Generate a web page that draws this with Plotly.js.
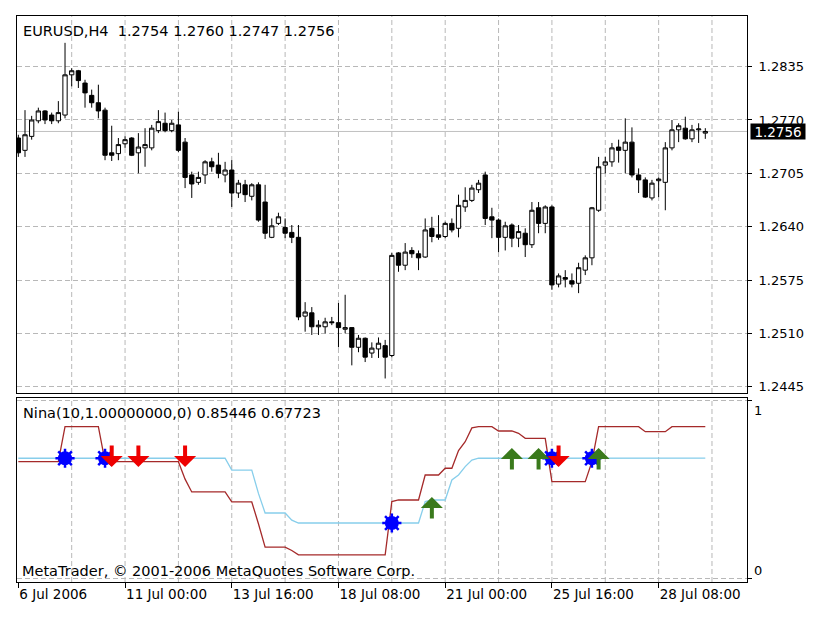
<!DOCTYPE html>
<html><head><meta charset="utf-8">
<script src="https://cdn.plot.ly/plotly-3.0.1.min.js"></script>
<style>html,body{margin:0;padding:0;background:#fff}#chart{width:828px;height:626px}</style>
</head><body><div id="chart"></div>
<script>
const symbolName = 'EURUSD,H4';
const indicatorName = 'Nina(10,1.00000000,0)';
const copyrightText = 'MetaTrader, \u00a9 2001-2006 MetaQuotes Software Corp.';

const openP = [
1.2748,1.2733,1.2750,1.2769,1.2781,1.2776,1.2769,1.2776,1.2825,1.2830,
1.2815,1.2800,1.2791,1.2782,1.2730,1.2729,1.2741,1.2748,1.2730,1.2736,
1.2736,1.2757,1.2766,1.2757,1.2764,1.2743,1.2703,1.2694,1.2703,1.2719,
1.2715,1.2703,1.2709,1.2681,1.2691,1.2677,1.2691,1.2670,1.2627,1.2644,
1.2639,1.2633,1.2627,1.2531,1.2535,1.2518,1.2518,1.2524,1.2523,1.2515,
1.2517,1.2493,1.2504,1.2486,1.2491,1.2495,1.2483,1.2608,1.2593,1.2611,
1.2607,1.2603,1.2638,1.2630,1.2628,1.2644,1.2638,1.2664,1.2672,1.2685,
1.2703,1.2652,1.2648,1.2627,1.2642,1.2626,1.2632,1.2618,1.2663,1.2644,
1.2664,1.2570,1.2578,1.2574,1.2571,1.2587,1.2602,1.2660,1.2715,1.2719,
1.2737,1.2733,1.2743,1.2703,1.2697,1.2675,1.2696,1.2694,1.2736,1.2758,
1.2760,1.2747,1.2758,1.2754];
const highP = [
1.2752,1.2782,1.2775,1.2785,1.2782,1.2779,1.2793,1.2864,1.2833,1.2831,
1.2819,1.2807,1.2813,1.2785,1.2763,1.2748,1.2750,1.2749,1.2754,1.2760,
1.2764,1.2782,1.2779,1.2770,1.2780,1.2748,1.2707,1.2707,1.2721,1.2724,
1.2730,1.2719,1.2721,1.2697,1.2697,1.2693,1.2694,1.2691,1.2650,1.2657,
1.2650,1.2642,1.2642,1.2548,1.2542,1.2526,1.2529,1.2530,1.2547,1.2557,
1.2517,1.2508,1.2505,1.2499,1.2505,1.2502,1.2608,1.2609,1.2620,1.2615,
1.2611,1.2650,1.2652,1.2654,1.2646,1.2650,1.2679,1.2688,1.2691,1.2697,
1.2707,1.2663,1.2650,1.2646,1.2644,1.2642,1.2638,1.2670,1.2670,1.2666,
1.2666,1.2583,1.2587,1.2583,1.2596,1.2605,1.2664,1.2725,1.2725,1.2742,
1.2746,1.2772,1.2761,1.2711,1.2700,1.2697,1.2700,1.2743,1.2770,1.2766,
1.2774,1.2764,1.2766,1.2760];
const lowP = [
1.2725,1.2725,1.2746,1.2766,1.2765,1.2765,1.2766,1.2772,1.2811,1.2809,
1.2785,1.2785,1.2772,1.2721,1.2720,1.2721,1.2736,1.2726,1.2705,1.2713,
1.2733,1.2754,1.2755,1.2755,1.2731,1.2687,1.2675,1.2691,1.2692,1.2707,
1.2699,1.2694,1.2664,1.2675,1.2670,1.2672,1.2646,1.2625,1.2626,1.2642,
1.2626,1.2620,1.2526,1.2512,1.2508,1.2508,1.2510,1.2520,1.2493,1.2510,
1.2471,1.2487,1.2475,1.2480,1.2480,1.2455,1.2481,1.2585,1.2587,1.2602,
1.2587,1.2602,1.2621,1.2624,1.2626,1.2633,1.2627,1.2658,1.2670,1.2681,
1.2642,1.2626,1.2609,1.2611,1.2615,1.2615,1.2603,1.2614,1.2632,1.2632,
1.2563,1.2566,1.2566,1.2566,1.2559,1.2581,1.2593,1.2658,1.2705,1.2713,
1.2718,1.2705,1.2700,1.2681,1.2675,1.2672,1.2676,1.2660,1.2733,1.2743,
1.2746,1.2743,1.2742,1.2747];
const closeP = [
1.2730,1.2752,1.2770,1.2781,1.2770,1.2769,1.2779,1.2825,1.2830,1.2818,
1.2803,1.2791,1.2781,1.2727,1.2727,1.2740,1.2746,1.2727,1.2737,1.2740,
1.2760,1.2768,1.2757,1.2766,1.2733,1.2700,1.2692,1.2700,1.2719,1.2713,
1.2705,1.2709,1.2681,1.2693,1.2679,1.2691,1.2648,1.2632,1.2641,1.2652,
1.2632,1.2627,1.2530,1.2536,1.2518,1.2520,1.2524,1.2523,1.2517,1.2517,
1.2493,1.2504,1.2481,1.2492,1.2498,1.2481,1.2605,1.2593,1.2609,1.2607,
1.2602,1.2636,1.2628,1.2627,1.2644,1.2636,1.2666,1.2672,1.2687,1.2693,
1.2650,1.2648,1.2627,1.2641,1.2626,1.2634,1.2618,1.2660,1.2644,1.2664,
1.2569,1.2580,1.2576,1.2570,1.2590,1.2602,1.2663,1.2713,1.2719,1.2736,
1.2733,1.2743,1.2703,1.2697,1.2676,1.2693,1.2698,1.2736,1.2758,1.2763,
1.2747,1.2758,1.2759,1.2756];

const ninaBrown = [
0.658,0.658,0.658,0.658,0.658,0.658,0.658,0.8545,0.8545,0.8545,
0.8545,0.8545,0.8545,0.658,0.658,0.658,0.658,0.658,0.658,0.658,
0.658,0.658,0.658,0.658,0.658,0.56,0.488,0.488,0.488,0.488,
0.488,0.488,0.432,0.432,0.432,0.432,0.31,0.179,0.179,0.179,
0.179,0.16,0.135,0.135,0.135,0.135,0.135,0.135,0.135,0.135,
0.135,0.135,0.135,0.135,0.135,0.135,0.434,0.443,0.443,0.443,
0.443,0.583,0.583,0.583,0.621,0.621,0.72,0.77,0.847,0.8545,
0.8545,0.8545,0.830,0.830,0.830,0.817,0.789,0.789,0.789,0.789,
0.546,0.546,0.546,0.546,0.546,0.546,0.658,0.8545,0.8545,0.8545,
0.8545,0.8545,0.8545,0.8545,0.826,0.826,0.826,0.826,0.8545,0.8545,
0.8545,0.8545,0.8545,0.85446];
const ninaBlue = [
0.6772,0.6772,0.6772,0.6772,0.6772,0.6772,0.6772,0.6772,0.6772,0.6772,
0.6772,0.6772,0.6772,0.6772,0.6772,0.6772,0.6772,0.6772,0.6772,0.6772,
0.6772,0.6772,0.6772,0.6772,0.6772,0.6772,0.6772,0.6772,0.6772,0.6772,
0.6772,0.6772,0.611,0.611,0.611,0.611,0.48,0.370,0.370,0.370,
0.370,0.33,0.314,0.314,0.314,0.314,0.314,0.314,0.314,0.314,
0.314,0.314,0.314,0.314,0.314,0.314,0.314,0.314,0.314,0.314,
0.314,0.434,0.443,0.443,0.443,0.555,0.583,0.63,0.667,0.6772,
0.6772,0.6772,0.6772,0.6772,0.6772,0.6772,0.6772,0.6772,0.6772,0.6772,
0.6772,0.6772,0.6772,0.6772,0.6772,0.6772,0.6772,0.6772,0.6772,0.6772,
0.6772,0.6772,0.6772,0.6772,0.6772,0.6772,0.6772,0.6772,0.6772,0.6772,
0.6772,0.6772,0.6772,0.67723];

const crossBars = [7, 13, 56, 80, 86];
const crossVals = [0.6772, 0.6772, 0.314, 0.6772, 0.6772];
const sellBars = [14, 18, 25, 81];
const sellVals = [0.628, 0.628, 0.628, 0.628];
const buyBars = [62, 74, 78, 87];
const buyVals = [0.46, 0.735, 0.735, 0.735];

const timeTickBars = [0, 16, 32, 48, 64, 80, 96];
const timeTickLabels = ['6 Jul 2006', '11 Jul 00:00', '13 Jul 16:00', '18 Jul 08:00', '21 Jul 00:00', '25 Jul 16:00', '28 Jul 08:00'];
const gridBars = [8, 16, 24, 32, 40, 48, 56, 64, 72, 80, 88, 96, 104];
const priceTicks = [1.2445, 1.2510, 1.2575, 1.2640, 1.2705, 1.2770, 1.2835];
const ninaTicks = [0, 1];

const N = openP.length;
const bars = openP.map((_, i) => i);
const fmt4 = v => v.toFixed(4);
const FONT = 'DejaVu Sans, Verdana, sans-serif';
const gridColor = '#b8b8b8';
const gridDash = '5px,3px';
const xRange = [-0.2, 109.25];
const textFont = { family: FONT, size: 14.5, color: '#000' };

const traces = [
  { type: 'candlestick', x: bars, open: openP, high: highP, low: lowP, close: closeP,
    xaxis: 'x', yaxis: 'y', whiskerwidth: 0, hoverinfo: 'skip', showlegend: false,
    increasing: { line: { color: '#000', width: 1 }, fillcolor: '#ffffff' },
    decreasing: { line: { color: '#000', width: 1 }, fillcolor: '#000000' } },
  { type: 'scatter', mode: 'lines', x: bars, y: ninaBlue, xaxis: 'x2', yaxis: 'y2',
    line: { color: '#87CEEB', width: 1.3 }, hoverinfo: 'skip', showlegend: false },
  { type: 'scatter', mode: 'lines', x: bars, y: ninaBrown, xaxis: 'x2', yaxis: 'y2',
    line: { color: '#A52A2A', width: 1.3 }, hoverinfo: 'skip', showlegend: false },
  { type: 'scatter', mode: 'markers', x: crossBars, y: crossVals, xaxis: 'x2', yaxis: 'y2',
    marker: { symbol: 'circle', size: 14, color: '#0000ff', line: { width: 0 } }, hoverinfo: 'skip', showlegend: false },
  { type: 'scatter', mode: 'markers', x: crossBars, y: crossVals, xaxis: 'x2', yaxis: 'y2',
    marker: { symbol: 'asterisk-open', size: 16, color: '#0000ff', line: { width: 2.5, color: '#0000ff' } }, hoverinfo: 'skip', showlegend: false }
];

const shapes = [];
gridBars.forEach(g => {
  shapes.push({ type: 'line', layer: 'below', xref: 'x', yref: 'y domain', x0: g, x1: g, y0: 0, y1: 1,
    line: { color: gridColor, width: 1, dash: gridDash } });
  shapes.push({ type: 'line', layer: 'below', xref: 'x2', yref: 'y2 domain', x0: g, x1: g, y0: 0, y1: 1,
    line: { color: gridColor, width: 1, dash: gridDash } });
});
shapes.push({ type: 'line', layer: 'below', xref: 'x domain', yref: 'y', x0: 0, x1: 1,
  y0: closeP[N - 1], y1: closeP[N - 1], line: { color: '#c0c0c0', width: 1 } });

const annotations = [
  { xref: 'paper', yref: 'paper', x: 0, y: 1, xanchor: 'left', yanchor: 'top', xshift: 4, yshift: -5, showarrow: false,
    font: textFont,
    text: symbolName + '\u00a0\u00a0' + [openP[N-1], highP[N-1], lowP[N-1], closeP[N-1]].map(fmt4).join(' ') },
  { xref: 'paper', yref: 'y2 domain', x: 0, y: 1, xanchor: 'left', yanchor: 'top', xshift: 4, yshift: -5, showarrow: false,
    font: textFont,
    text: indicatorName + ' ' + ninaBrown[N-1].toFixed(5) + ' ' + ninaBlue[N-1].toFixed(5) },
  { xref: 'paper', yref: 'y2 domain', x: 0, y: 0, xanchor: 'left', yanchor: 'bottom', xshift: 3, yshift: 1, showarrow: false,
    font: textFont, text: copyrightText },
  { xref: 'paper', yref: 'y', x: 1, y: closeP[N-1], xanchor: 'left', yanchor: 'middle', xshift: 3, showarrow: false,
    text: fmt4(closeP[N-1]), bgcolor: '#000', font: { family: FONT, size: 13.5, color: '#fff' },
    width: 54, height: 15, borderpad: 0, align: 'center' },
  { xref: 'paper', yref: 'y2', x: 1, y: ninaTicks[1], xanchor: 'left', yanchor: 'middle', xshift: 5, yshift: -10, showarrow: false,
    text: String(ninaTicks[1]) },
  { xref: 'paper', yref: 'y2', x: 1, y: ninaTicks[0], xanchor: 'left', yanchor: 'middle', xshift: 5, yshift: 8, showarrow: false,
    text: String(ninaTicks[0]) }
];
sellBars.forEach((b, i) => annotations.push({ xref: 'x2', yref: 'y2', x: b, y: sellVals[i], text: '', showarrow: true,
  ax: 0, ay: -23, arrowhead: 1, arrowsize: 0.92, arrowwidth: 4, arrowcolor: '#ee0000' }));
buyBars.forEach((b, i) => annotations.push({ xref: 'x2', yref: 'y2', x: b, y: buyVals[i], text: '', showarrow: true,
  ax: 0, ay: 23, arrowhead: 1, arrowsize: 0.92, arrowwidth: 4, arrowcolor: '#3a7a1c' }));

const layout = {
  width: 828, height: 626, margin: { l: 17, r: 81, t: 16, b: 44, pad: 0 },
  paper_bgcolor: '#fff', plot_bgcolor: '#fff', showlegend: false,
  font: { family: FONT, size: 13, color: '#000' },
  boxgap: 0.2, boxgroupgap: 0.2,
  xaxis: { domain: [0, 1], anchor: 'y', range: xRange, tickmode: 'array', tickvals: [], showticklabels: false,
    ticks: '', showgrid: false, zeroline: false, showline: true, mirror: true, linecolor: '#000', linewidth: 1,
    rangeslider: { visible: false }, fixedrange: true },
  yaxis: { domain: [0.33392, 1], anchor: 'x', side: 'right', range: [1.24373, 1.28967],
    tickmode: 'array', tickvals: priceTicks, ticktext: priceTicks.map(fmt4),
    ticks: 'outside', ticklen: 4, tickcolor: '#000', ticklabelstandoff: 4,
    showgrid: true, gridcolor: gridColor, griddash: gridDash, gridwidth: 1,
    zeroline: false, showline: true, mirror: true, linecolor: '#000', linewidth: 1, fixedrange: true },
  xaxis2: { domain: [0, 1], anchor: 'y2', range: xRange, tickmode: 'array', tickvals: timeTickBars, ticktext: timeTickLabels,
    ticks: 'outside', ticklen: 5, tickcolor: '#000', ticklabelposition: 'outside right',
    tickfont: { family: FONT, size: 13.5, color: '#000' },
    showgrid: false, zeroline: false, showline: true, mirror: true, linecolor: '#000', linewidth: 1, fixedrange: true },
  yaxis2: { domain: [0, 0.32509], anchor: 'x2', side: 'right', range: [-0.017, 1.015],
    tickmode: 'array', tickvals: ninaTicks, showticklabels: false, ticks: 'outside', ticklen: 4, tickcolor: '#000',
    showgrid: true, gridcolor: gridColor, griddash: gridDash, gridwidth: 1,
    zeroline: false, showline: true, mirror: true, linecolor: '#000', linewidth: 1, fixedrange: true },
  shapes: shapes,
  annotations: annotations
};

Plotly.newPlot('chart', traces, layout, { displayModeBar: false, staticPlot: true });
</script>
</body></html>
